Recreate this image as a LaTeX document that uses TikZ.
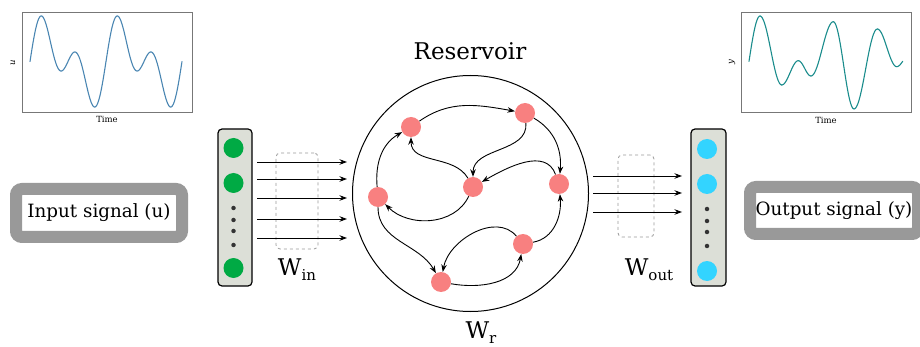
\documentclass[tikz,border=0pt]{standalone}
\usepackage{fontspec}
\setmainfont{DejaVu Serif}
\usetikzlibrary{arrows.meta}
\definecolor{rescol}{HTML}{F88080}
\definecolor{incol}{HTML}{00AA44}
\definecolor{outcol}{HTML}{33D4FF}
\definecolor{layerfill}{HTML}{DCDFD7}
\definecolor{boxgray}{HTML}{999999}
\definecolor{ucurve}{HTML}{4A86B2}
\definecolor{ycurve}{HTML}{1A8C8C}
\definecolor{framegray}{HTML}{777777}
\begin{document}
\begin{tikzpicture}[x=1pt,y=1pt,
  rnode/.style={circle,fill=rescol,minimum size=20pt,inner sep=0pt},
  innode/.style={circle,fill=incol,minimum size=20pt,inner sep=0pt},
  outnode/.style={circle,fill=outcol,minimum size=20pt,inner sep=0pt},
  dotnode/.style={circle,fill=black!80,minimum size=4.5pt,inner sep=0pt},
  layer/.style={draw=black,line width=1.2pt,fill=layerfill,rounded corners=4pt,inner sep=0pt},
  wbox/.style={draw=boxgray,dashed,line width=0.8pt,rounded corners=4pt,inner sep=0pt},
  sigbox/.style={draw=boxgray,line width=12pt,fill=white,rounded corners=6pt,inner sep=0pt,font=\fontsize{18.3}{20}\selectfont},
  frame/.style={draw=framegray,line width=0.8pt,inner sep=0pt},
  edge/.style={line width=0.9pt,-{Stealth[length=7.5pt,width=5.5pt]}},
  sigarrow/.style={line width=0.9pt,-{Stealth[length=7.5pt,width=5.5pt]}},
  lbl/.style={inner sep=0pt,font=\fontsize{23}{25}\selectfont},
  small/.style={inner sep=0pt,font=\fontsize{8.5}{10}\selectfont}
]
\useasboundingbox (0,0) rectangle (920,-347);

% ---- input plot ----
\node[frame,minimum width=170pt,minimum height=100pt] (pu) at (107,-62) {};
\draw[ucurve,line width=1.1pt,line cap=round] plot[domain=0:4*pi,samples=160,smooth]
  ({30+\x*152/(4*pi)},{-(61.5-25.9*(sin(\x r)+sin(2*\x r)))});
\node[small] (tu) at (107,-119) {Time};
\node[small,rotate=90] (lu) at (13,-63) {\itshape u};

% ---- output plot ----
\node[frame,minimum width=170pt,minimum height=100pt] (py) at (826,-62) {};
\draw[ycurve,line width=1.1pt,line cap=round] plot[domain=0:1,samples=15]
  ({749+11*\x},{-(61.3-45.3*sin(90*\x))});
\foreach \xa/\ya/\xb/\yb in {760/16/781.7/85, 781.7/85/798.3/60.7, 798.3/60.7/811/76,
  811/76/833.3/21.7, 833.3/21.7/854/109, 854/109/877.3/29, 877.3/29/896.7/66.7}
  \draw[ycurve,line width=1.1pt,line cap=round] plot[domain=0:1,samples=20]
  ({\xa+(\xb-\xa)*\x},{-(\ya+(\yb-\ya)*(1-cos(180*\x))/2)});
\draw[ycurve,line width=1.1pt,line cap=round] plot[domain=0:1,samples=10]
  ({896.7+6*\x},{-(66.7-5.4*(1-cos(90*\x)))});
\node[small] (ty) at (826,-120) {Time};
\node[small,rotate=90] (ly) at (732,-62) {\itshape y};

% ---- signal boxes ----
\node[sigbox,minimum width=166pt,minimum height=48pt] (insig) at (99,-213) {Input signal (u)};
\node[sigbox,minimum width=168pt,minimum height=47pt] (outsig) at (834,-210.5) {Output signal (y)};

% ---- input layer ----
\node[layer,minimum width=34pt,minimum height=157pt] (inl) at (235,-207.5) {};
\node[innode] (i1) at (233.5,-148) {};
\node[innode] (i2) at (233.5,-183) {};
\node[innode] (i3) at (233.5,-268) {};
\foreach \y [count=\k] in {208,220,231,245} \node[dotnode] (id\k) at (233.5,-\y) {};

\node[wbox,minimum width=42pt,minimum height=96pt] (win) at (297,-201) {};
\foreach \y [count=\k] in {162,179,198,219,238} {
  \coordinate (is\k) at (257,-\y);
  \coordinate (ie\k) at (347,-\y);
  \draw[sigarrow] (is\k) -- (ie\k);
}
\node[lbl] (wint) at (297,-270) {W\raisebox{-5pt}{\fontsize{15}{17}\selectfont in}};

% ---- output layer ----
\node[layer,minimum width=35pt,minimum height=157pt] (outl) at (708.5,-207.5) {};
\node[outnode] (o1) at (707,-149) {};
\node[outnode] (o2) at (707,-184) {};
\node[outnode] (o3) at (707,-271) {};
\foreach \y [count=\k] in {209,221,232,246} \node[dotnode] (od\k) at (707,-\y) {};

\node[wbox,minimum width=36pt,minimum height=82pt] (wout) at (636,-196) {};
\foreach \y [count=\k] in {176,193,212} {
  \coordinate (os\k) at (593,-\y);
  \coordinate (oe\k) at (682,-\y);
  \draw[sigarrow] (os\k) -- (oe\k);
}
\node[lbl] (woutt) at (649,-270) {W\raisebox{-5pt}{\fontsize{15}{17}\selectfont out}};

% ---- reservoir ----
\node[circle,draw=black,line width=1pt,minimum size=236pt,inner sep=0pt] (res) at (470.5,-193.5) {};
\node[lbl] (rest) at (470,-51) {Reservoir};
\node[lbl] (wr) at (481,-333) {W\raisebox{-5pt}{\fontsize{15}{17}\selectfont r}};

\node[rnode] (A) at (411,-127) {};
\node[rnode] (B) at (525,-113) {};
\node[rnode] (C) at (473,-187) {};
\node[rnode] (D) at (559,-184) {};
\node[rnode] (E) at (378,-197) {};
\node[rnode] (F) at (523,-244) {};
\node[rnode] (G) at (441,-282) {};

\draw[edge] (A) to[out=35,in=170] (B);
\draw[edge] (B) to[out=-85,in=90] (C);
\draw[edge] (B) to[out=-30,in=85] (D);
\draw[edge] (D) to[out=110,in=30] (C);
\draw[edge] (C) to[out=120,in=-90] (A);
\draw[edge] (C) to[out=-115,in=-45] (E);
\draw[edge] (E) to[out=95,in=-150] (A);
\draw[edge] (E) to[out=-90,in=120] (G);
\draw[edge] (G) to[out=-10,in=-100] (F);
\draw[edge] (F) to[out=130,in=80] (G);
\draw[edge] (F) to[out=10,in=-85] (D);
\end{tikzpicture}
\end{document}
